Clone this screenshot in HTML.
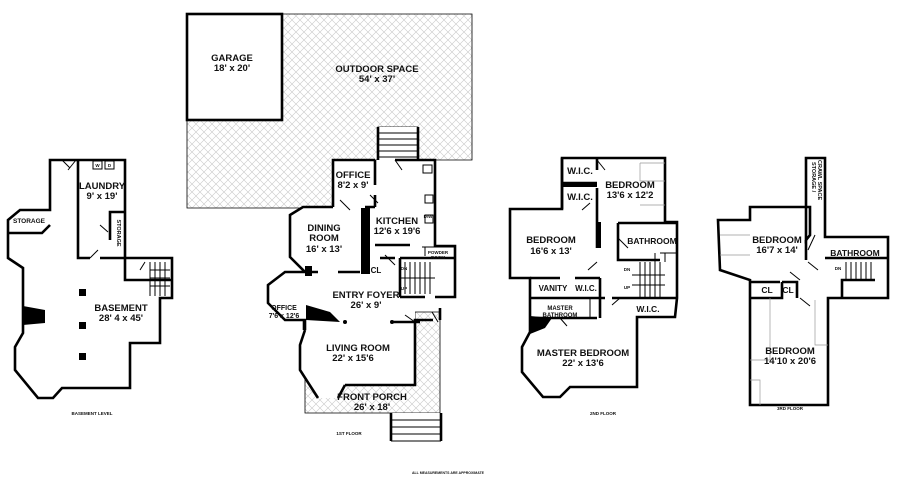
<!DOCTYPE html>
<html><head><meta charset="utf-8"><style>
html,body{margin:0;padding:0;background:#fff;}
svg{display:block;}
text{font-family:"Liberation Sans",sans-serif;font-weight:bold;fill:#111;text-anchor:middle;}
.l{font-size:9.5px;}
.s{font-size:4.5px;}
.w{fill:none;stroke:#000;stroke-width:2.6;stroke-linejoin:miter;}
.t{fill:none;stroke:#000;stroke-width:1;}
.g{fill:none;stroke:#999;stroke-width:0.7;}
</style></head><body>
<svg width="900" height="481" viewBox="0 0 900 481" xmlns="http://www.w3.org/2000/svg">
<defs>
<pattern id="h" width="8" height="8" patternUnits="userSpaceOnUse">
<path d="M0 0L8 8M8 0L0 8" stroke="#c8c8c8" stroke-width="0.6"/>
</pattern>
</defs>

<!-- ============ BASEMENT ============ -->
<polygon class="w" points="52,160 125,160 125,258 172,258 172,298 160,298 160,343 130,343 130,388 62,388 53,398 38,398 15,370 15,347 23,333 23,268 8,258 8,220 20,210 50,210 50,160"/>
<polyline class="w" points="78,160 78,258 90,258"/>
<polyline class="w" points="100,258 125,258"/>
<polyline class="w" points="110,240 110,212 125,212"/>
<polyline class="w" points="8,233 42,233 50,225"/>
<polyline class="w" points="125,258 125,280 172,280"/>
<rect x="93" y="161" width="9" height="8" class="t"/><rect x="105" y="161" width="9" height="8" class="t"/>
<text class="s" x="97.5" y="167">W</text><text class="s" x="109.5" y="167">D</text>
<path class="t" d="M62,160 L70,168 M90,258 L98,250 M108,232 L100,225 M76,160 L68,170 M140,270 L145,262"/>
<g class="t"><path d="M150,262 L150,296 M155,262 L155,296 M160,262 L160,296 M165,262 L165,296 M150,270 L170,270 M150,278 L170,278 M150,286 L170,286"/></g>
<rect x="79" y="289" width="7" height="7"/><rect x="79" y="322" width="7" height="7"/><rect x="79" y="353" width="7" height="7"/>
<polygon points="23,306 23,325 45,323 45,310"/>
<text class="l" x="102" y="189">LAUNDRY</text><text class="l" x="102" y="199">9' x 19'</text>
<text class="s" x="29" y="223" style="font-size:6.5px">STORAGE</text>
<text class="s" transform="translate(117,233) rotate(90)" style="font-size:5.5px">STORAGE</text>
<text class="l" x="121" y="311">BASEMENT</text><text class="l" x="121" y="321">28' 4  x 45'</text>
<text class="s" x="92" y="415">BASEMENT LEVEL</text>

<!-- ============ 1ST FLOOR ============ -->
<polygon points="187,14 472,14 472,160 418,160 418,127 378,127 378,160 333,160 333,208 187,208" fill="url(#h)" stroke="#000" stroke-width="0.8"/>
<rect x="187" y="14" width="95" height="106" style="fill:#fff;stroke:#000;stroke-width:2.6"/>
<rect x="378" y="127" width="40" height="33" fill="#fff"/>
<path class="w" d="M378,160 L378,127 M418,127 L418,160"/>
<g class="t"><path d="M378,133H418M378,139H418M378,145H418M378,151H418M378,157H418"/></g>
<!-- porch -->
<polygon points="305,320 415,320 415,312 440,312 440,413 305,413" fill="url(#h)" stroke="#000" stroke-width="0.8"/>
<!-- interior white house -->
<polygon fill="#fff" points="333,160 435,160 435,246 455,246 455,297 440,297 440,308 415,308 415,385 345,385 338,398 318,398 300,370 300,345 305,330 305,320 285,320 268,303 268,285 285,272 305,272 290,257 290,215 303,207 333,207"/>
<path class="w" d="M333,207 V160 H375 M395,160 H435 V246 H455 V297 H435 M425,297 H400 M440,308 V320 M433,320 H415 V385 H345 M305,330 V320 H285 L268,303 V285 L285,272 H305 L290,257 V215 L303,207 H333"/>
<path class="w" d="M318,398 L300,370 V345 L305,330 M345,385 L338,398"/>
<path class="w" d="M375,160 V185 M375,195 V207 M375,207 L365,207 M305,272 H318 M338,272 H360 M380,258 H395 M400,258 H455 M400,258 V297 M375,245 H410"/>
<rect x="361" y="208" width="9" height="66"/>
<rect x="305" y="266" width="7" height="10"/>
<polygon points="306,305 306,320 340,322 330,312"/>
<circle cx="345" cy="322" r="2"/><circle cx="392" cy="322" r="2"/>
<path class="w" d="M392,322 H420 M304,330 V320"/>
<g class="t"><path d="M405,262V294M410,262V294M415,262V294M420,262V294M425,262V294M430,262V294M400,278H435M425,247V256M422,247H455"/></g>
<rect x="423" y="165" width="9" height="8" class="t"/><rect x="425" y="195" width="8" height="8" class="t"/><rect x="425" y="215" width="8" height="8" class="t"/>
<path class="t" d="M395,160 L402,170 M340,200 L350,210 M370,195 L378,203 M385,255 L395,265 M405,315 L415,322 M432,312 L438,322"/>
<text class="l" x="232" y="61">GARAGE</text><text class="l" x="232" y="71">18' x 20'</text>
<text class="l" x="377" y="72">OUTDOOR SPACE</text><text class="l" x="377" y="82">54' x 37'</text>
<text class="l" x="353" y="178">OFFICE</text><text class="l" x="353" y="188">8'2 x 9'</text>
<text class="l" x="397" y="224">KITCHEN</text><text class="l" x="397" y="234">12'6 x 19'6</text>
<text class="l" x="324" y="231">DINING</text><text class="l" x="324" y="241">ROOM</text><text class="l" x="324" y="252">16' x 13'</text>
<text class="l" x="376" y="273" style="font-size:8px">CL</text>
<text class="l" x="366" y="298">ENTRY FOYER</text><text class="l" x="366" y="308">26' x 9'</text>
<text class="s" x="284" y="310" style="font-size:7px">OFFICE</text><text class="s" x="284" y="318" style="font-size:7px">7'6 x 12'6</text>
<text class="l" x="358" y="351">LIVING ROOM</text><text class="l" x="353" y="361">22' x 15'6</text>
<text class="l" x="372" y="400">FRONT PORCH</text><text class="l" x="372" y="410">26' x 18'</text>
<text class="s" x="438" y="254">POWDER</text><text class="s" x="438" y="259">ROOM</text>
<text class="s" x="404" y="270">DN</text><text class="s" x="404" y="290">UP</text><text class="s" x="428" y="218">D/W</text>
<rect x="390" y="413" width="52" height="28" fill="#fff"/>
<path class="w" d="M391,413 V441 M441,413 V441"/>
<g class="t"><path d="M391,420H441M391,427H441M391,434H441M391,441H441"/></g>
<text class="s" x="349" y="435">1ST FLOOR</text>

<!-- ============ 2ND FLOOR ============ -->
<polygon class="w" points="562,158 665,158 665,222 677,222 677,298 675,317 637,317 637,387 570,387 560,397 543,397 522,372 522,347 530,332 530,278 510,278 510,209 562,209"/>
<path class="w" d="M562,158 V209 M562,183 H597 M597,158 V170 M597,188 V248 M597,222 V209 M618,223 H677 M618,223 V260 H660 M530,278 H560 M575,278 H600 M530,298 H605 M600,278 V318 M612,298 H677 M530,318 H597"/>
<rect x="562" y="183" width="35" height="4"/>
<rect x="596" y="222" width="5" height="26"/>
<polygon points="530,316 530,334 545,328 552,318"/>
<g class="t"><path d="M640,262V297M645,262V297M650,262V297M655,262V297M660,262V297M632,275H665M632,285H665M655,253V262M665,253V262M660,253H677"/></g>
<path class="g" d="M640,163H665M640,163V181H665M640,205H665"/>
<path class="t" d="M597,160L605,170M582,210L590,203M588,270L597,262M618,238L628,248M612,305L620,298M560,318L567,326M575,298H590V318"/>
<text class="l" x="580" y="174">W.I.C.</text><text class="l" x="580" y="200">W.I.C.</text>
<text class="l" x="630" y="188">BEDROOM</text><text class="l" x="630" y="198">13'6 x 12'2</text>
<text class="l" x="551" y="243">BEDROOM</text><text class="l" x="551" y="254">16'6 x 13'</text>
<text class="l" x="652" y="244" style="font-size:8.5px">BATHROOM</text>
<text class="l" x="553" y="291" style="font-size:8px">VANITY</text><text class="l" x="586" y="291" style="font-size:8px">W.I.C.</text>
<text class="l" x="648" y="312" style="font-size:8.5px">W.I.C.</text>
<text class="s" x="560" y="310" style="font-size:6px">MASTER</text><text class="s" x="560" y="317" style="font-size:6px">BATHROOM</text>
<text class="l" x="583" y="356">MASTER BEDROOM</text><text class="l" x="583" y="366">22' x 13'6</text>
<text class="s" x="627" y="271">DN</text><text class="s" x="627" y="289">UP</text>
<text class="s" x="603" y="415">2ND FLOOR</text>

<!-- ============ 3RD FLOOR ============ -->
<polygon class="w" points="806,158 825,158 825,237 888,237 888,298 842,298 828,298 828,405 750,405 750,280 720,270 718,220 750,220 750,207 810,207 810,235 806,240"/>
<path class="w" d="M750,282 H780 M782,282 H797 V298 M806,240 V260 M825,258 H888 M842,298 V280 H875 M750,298 H782 V282"/>
<g class="t"><path d="M846,262V280M851,262V280M856,262V280M861,262V280M866,262V280M871,262V280"/></g>
<path class="g" d="M720,235H750M720,255H750M770,298V360H750M815,300V345H828M750,380H760V405"/>
<path class="t" d="M815,235L808,250M808,262L818,270M790,272L800,280M800,298L810,306"/>
<text class="s" transform="translate(812,162) rotate(90)" style="font-size:5.5px;text-anchor:start">STORAGE /</text>
<text class="s" transform="translate(818,160) rotate(90)" style="font-size:5.5px;text-anchor:start">CRAWL SPACE</text>
<text class="l" x="777" y="243">BEDROOM</text><text class="l" x="777" y="253">16'7 x 14'</text>
<text class="l" x="855" y="256" style="font-size:8.5px">BATHROOM</text>
<text class="l" x="767" y="293" style="font-size:8.5px">CL</text><text class="l" x="788" y="293" style="font-size:8.5px">CL</text>
<text class="l" x="790" y="354">BEDROOM</text><text class="l" x="790" y="364">14'10 x 20'6</text>
<text class="s" x="838" y="270">DN</text>
<text class="s" x="790" y="410">3RD FLOOR</text>

<text class="s" x="448" y="474" style="font-size:3.5px">ALL MEASUREMENTS ARE APPROXIMATE</text>
</svg>
</body></html>
